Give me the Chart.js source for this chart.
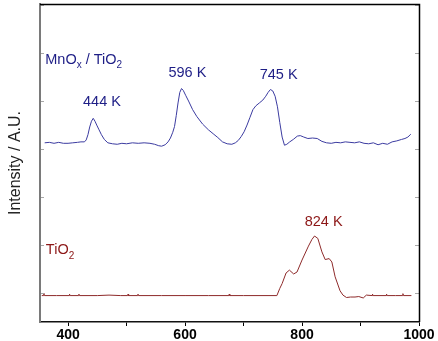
<!DOCTYPE html>
<html>
<head>
<meta charset="utf-8">
<script src="https://cdn.jsdelivr.net/npm/chart.js@4"></script>
<style>
  html,body{margin:0;padding:0;background:#fff;}
  #wrap{width:438px;height:341px;}
</style>
</head>
<body>
<div id="wrap"><canvas id="c" width="438" height="341"></canvas></div>
<script>
// ---- Data (temperature in K, intensity in arbitrary units) ----
const mnoxTemp = [360,368,376,384,392,400,408,416,422,428,431,434,437,440,443,446,449,453,457,462,468,476,484,492,500,510,520,530,540,548,555,560,566,571,575,579,582,585,588,591,594,597,601,606,613,620,630,640,648,656,664,672,680,686,691,696,701,706,711,716,721,727,733,738,742,746,750,754,758,762,766,770,774,779,785,792,797,803,810,818,826,834,842,850,858,866,874,882,890,898,906,914,922,930,938,946,954,962,970,976,981,986];
const mnoxInt  = [3.13,3.14,3.12,3.14,3.12,3.12,3.13,3.14,3.15,3.15,3.19,3.30,3.46,3.58,3.64,3.58,3.50,3.40,3.30,3.20,3.13,3.11,3.10,3.12,3.11,3.13,3.12,3.13,3.12,3.10,3.07,3.06,3.09,3.15,3.23,3.35,3.47,3.70,3.96,4.18,4.26,4.22,4.12,4.00,3.82,3.68,3.52,3.40,3.32,3.24,3.15,3.11,3.10,3.13,3.18,3.26,3.36,3.50,3.66,3.82,3.90,3.96,4.02,4.10,4.18,4.24,4.21,4.10,3.88,3.55,3.25,3.08,3.10,3.15,3.20,3.27,3.28,3.25,3.22,3.23,3.22,3.16,3.13,3.12,3.14,3.13,3.15,3.14,3.13,3.15,3.12,3.11,3.13,3.09,3.12,3.10,3.15,3.17,3.20,3.22,3.25,3.31];

const tio2Temp = [355,358,358.5,359.5,380,402,402.5,403.5,418,418.5,419.5,450,470,490,502,502.5,503.5,519,519.5,520.5,560,600,640,675,675.5,676.5,700,735,757,762,766,772.7,778.4,785.7,791.4,800,811,817,821.4,827,834,839.6,846.4,851,856.6,865,870,876,883,890.6,897,904.7,910,920,920.5,921.5,944,944.5,945.5,960,972,972.5,973.5,987];
const tio2Int  = [-0.05,-0.05,0.0,-0.05,-0.05,-0.05,-0.02,-0.05,-0.05,-0.02,-0.05,-0.05,-0.04,-0.05,-0.05,-0.02,-0.05,-0.05,-0.02,-0.05,-0.05,-0.05,-0.05,-0.05,-0.02,-0.05,-0.05,-0.05,-0.05,0.10,0.20,0.42,0.48,0.40,0.44,0.69,0.98,1.12,1.19,1.14,0.86,0.70,0.72,0.65,0.34,0.05,-0.04,-0.09,-0.08,-0.08,-0.07,-0.10,-0.04,-0.05,-0.02,-0.05,-0.05,-0.02,-0.05,-0.05,-0.05,-0.01,-0.05,-0.05];

const xTickValues = [400,500,600,700,800,900,1000];
const xTickLabels = {400:'400',600:'600',800:'800',1000:'1000'};
const yTickValues = [0,1,2,3,4,5,6];

const peakLabels = ['444 K','596 K','745 K','824 K'];

const FONT = "'Liberation Sans', Arial, sans-serif";
const BLUE_LINE = '#3b3ba0';
const BLUE_TEXT = '#1e1e86';
const RED_LINE = '#8e2a2a';
const RED_TEXT = '#8c1616';

const toXY = (xs, ys) => xs.map((x,i)=>({x:x, y:ys[i]}));

const decorPlugin = {
  id: 'decor',
  afterDatasetsDraw(chart) {
    const {ctx, chartArea:a, scales:{x, y}} = chart;
    ctx.save();
    // inner y ticks, left and right
    ctx.strokeStyle = '#a8a8a8';
    ctx.lineWidth = 1;
    yTickValues.forEach(v => {
      const py = Math.round(y.getPixelForValue(v)) + 0.5;
      ctx.beginPath(); ctx.moveTo(a.left+1, py); ctx.lineTo(a.left+4, py); ctx.stroke();
      ctx.beginPath(); ctx.moveTo(a.right-4, py); ctx.lineTo(a.right, py); ctx.stroke();
    });
    // top and right frame
    ctx.strokeStyle = '#000';
    ctx.lineWidth = 1.5;
    ctx.beginPath();
    ctx.moveTo(a.left, a.top+0.5); ctx.lineTo(a.right+0.5, a.top+0.5); ctx.lineTo(a.right+0.5, a.bottom);
    ctx.stroke();

    // text labels
    ctx.textBaseline = 'middle';
    ctx.font = '14.5px ' + FONT;
    const centered = (txt, kx, vy, col) => {
      ctx.fillStyle = col; ctx.textAlign = 'center';
      ctx.fillText(txt, x.getPixelForValue(kx), y.getPixelForValue(vy));
    };
    centered(peakLabels[0], 458, 3.98, BLUE_TEXT);
    centered(peakLabels[1], 604, 4.58, BLUE_TEXT);
    centered(peakLabels[2], 760, 4.54, BLUE_TEXT);
    centered(peakLabels[3], 837, 1.48, RED_TEXT);

    // label with subscripts
    const subText = (parts, kx, vy, col) => {
      let px = x.getPixelForValue(kx);
      const py = y.getPixelForValue(vy);
      ctx.fillStyle = col; ctx.textAlign = 'left';
      parts.forEach(p => {
        if (p.sub) {
          ctx.font = '10px ' + FONT;
          ctx.fillText(p.t, px, py + 6);
        } else {
          ctx.font = '14.5px ' + FONT;
          ctx.fillText(p.t, px, py);
        }
        px += ctx.measureText(p.t).width;
      });
    };
    subText([{t:'MnO'},{t:'x',sub:true},{t:' / TiO'},{t:'2',sub:true}], 361, 4.86, BLUE_TEXT);
    subText([{t:'TiO'},{t:'2',sub:true}], 362, 0.9, RED_TEXT);
    ctx.restore();
  }
};

new Chart(document.getElementById('c'), {
  type: 'line',
  data: {
    datasets: [
      {label:'MnOx / TiO2', data: toXY(mnoxTemp, mnoxInt), borderColor: BLUE_LINE, borderWidth: 1, pointRadius: 0, tension: 0, fill: false},
      {label:'TiO2', data: toXY(tio2Temp, tio2Int), borderColor: RED_LINE, borderWidth: 1, pointRadius: 0, tension: 0, fill: false}
    ]
  },
  options: {
    responsive: false,
    animation: false,
    devicePixelRatio: 1,
    layout: {padding: {left: 0, right: 19, top: 4, bottom: 0}},
    plugins: {legend: {display: false}, tooltip: {enabled: false}},
    scales: {
      x: {
        type: 'linear', min: 352, max: 1000,
        afterBuildTicks: s => { s.ticks = xTickValues.map(v => ({value: v})); },
        afterFit: s => { s.height = 19; },
        ticks: {
          autoSkip: false, maxRotation: 0, padding: 1,
          color: '#000',
          font: {family: FONT, size: 14, weight: 'bold'},
          callback: v => xTickLabels[v] || ''
        },
        grid: {drawOnChartArea: false, drawTicks: true, tickLength: 4, color: '#000', lineWidth: 1},
        border: {color: '#111', width: 1.5}
      },
      y: {
        type: 'linear', min: -0.6, max: 6.02,
        afterBuildTicks: s => { s.ticks = yTickValues.map(v => ({value: v})); },
        afterFit: s => { s.width = 40; },
        ticks: {display: false},
        grid: {display: false, drawTicks: false},
        border: {color: '#7a7a7a', width: 2},
        title: {display: true, text: 'Intensity / A.U.', color: '#222', font: {family: FONT, size: 16}, padding: {top: 6, bottom: 0}}
      }
    }
  },
  plugins: [decorPlugin]
});
</script>
</body>
</html>
